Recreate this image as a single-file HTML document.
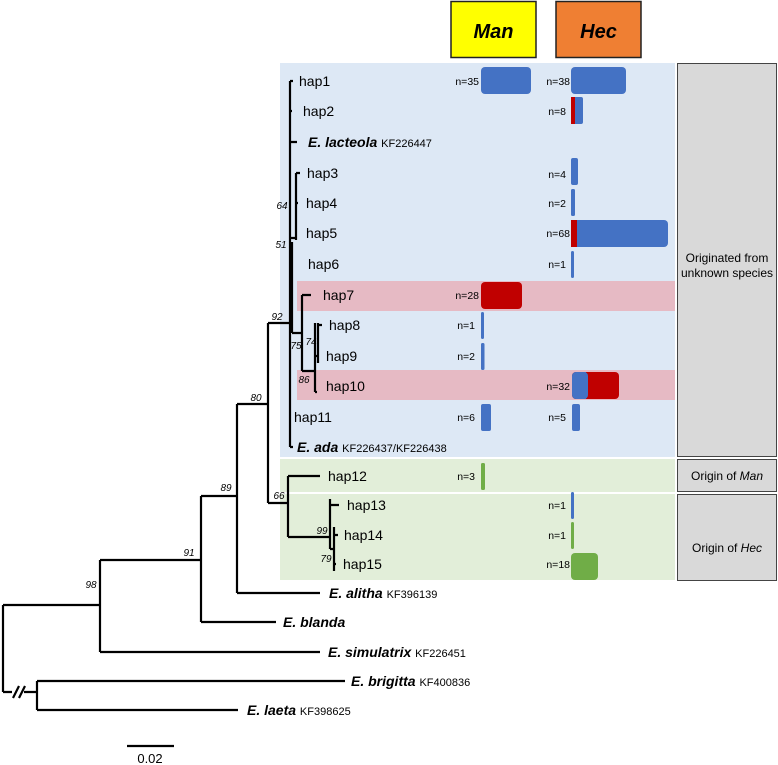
<!DOCTYPE html>
<html><head><meta charset="utf-8"><style>
html,body{margin:0;padding:0;background:#fff}
svg{display:block}
text{font-family:"Liberation Sans",Arial,sans-serif}
.h{font-size:14px}
.n{font-size:10.5px;text-anchor:end}
.sp{font-size:14px;font-weight:bold;font-style:italic}
.ac{font-size:11px;font-weight:normal;font-style:normal}
.b{font-size:10px;font-style:italic;text-anchor:middle}
.r{font-size:12px;text-anchor:middle}
</style></head><body>
<svg width="778" height="765" viewBox="0 0 778 765" xmlns="http://www.w3.org/2000/svg">
<!-- backgrounds -->
<rect x="280" y="63" width="395" height="394" fill="#dde8f5"/>
<rect x="297" y="281" width="378" height="30" fill="#e6bac4"/>
<rect x="297" y="370" width="378" height="30" fill="#e6bac4"/>
<rect x="280" y="459" width="395" height="33" fill="#e2eed9"/>
<rect x="280" y="494" width="395" height="86" fill="#e2eed9"/>
<rect x="677.5" y="63.5" width="99" height="393" fill="#d9d9d9" stroke="#444" stroke-width="1"/>
<rect x="677.5" y="459.5" width="99" height="32" fill="#d9d9d9" stroke="#444" stroke-width="1"/>
<rect x="677.5" y="494.5" width="99" height="86" fill="#d9d9d9" stroke="#444" stroke-width="1"/>
<text class="r" x="727" y="262">Originated from</text>
<text class="r" x="727" y="277">unknown species</text>
<text class="r" x="727" y="480">Origin of <tspan font-style="italic">Man</tspan></text>
<text class="r" x="727" y="552">Origin of <tspan font-style="italic">Hec</tspan></text>
<!-- headers -->
<rect x="451" y="1.5" width="85" height="56" fill="#ffff00" stroke="#222" stroke-width="1.5"/>
<rect x="556" y="1.5" width="85" height="56" fill="#ef7f33" stroke="#222" stroke-width="1.5"/>
<text x="493.5" y="38" text-anchor="middle" font-size="20" font-weight="bold" font-style="italic">Man</text>
<text x="598.5" y="38" text-anchor="middle" font-size="20" font-weight="bold" font-style="italic">Hec</text>
<!-- tree -->
<g stroke="#000" stroke-width="2.2" fill="none">
<path d="M3,605V692 M3,605H100 M100,560V652 M100,560H201 M100,652H320"/>
<path d="M201,496V622 M201,622H276 M201,496H237 M237,404V593 M237,593H320 M237,404H268"/>
<path d="M268,323V503 M268,323H290 M268,503H288 M288,476V537 M288,476H320 M288,537H330 M330,499V549 M330,505H339 M330,549H334 M334,527V571 M334,535H338 M334,564H336"/>
<path d="M290,81V447 M290,81H293 M290,111H292 M290,142H297 M290,264H292 M290,417H291 M290,447H293"/>
<path d="M290,238H296 M296,173V240 M296,173H300 M296,203H298"/>
<path d="M292,242V333 M292,333H302 M302,295V371 M302,295H311 M302,371H315 M315,323V392 M315,392H317 M318,323V363 M318,325H322 M315,356H318"/>
<path d="M3,692H12 M24,692H37 M37,681V710 M37,681H345 M37,710H238 M13,698L19,686 M19,698L25,686"/>
<path d="M127,746H174"/>
</g>
<text x="150" y="763" text-anchor="middle" font-size="13">0.02</text>
<!-- bootstrap -->
<g class="b">
<text x="91" y="588" class="b">98</text><text x="189" y="556" class="b">91</text>
<text x="226" y="491" class="b">89</text><text x="256" y="401" class="b">80</text>
<text x="277" y="320" class="b">92</text><text x="279" y="499" class="b">66</text>
<text x="282" y="209" class="b">64</text><text x="281" y="248" class="b">51</text>
<text x="296" y="349" class="b">75</text><text x="311" y="345" class="b">74</text>
<text x="304" y="383" class="b">86</text><text x="322" y="534" class="b">99</text>
<text x="326" y="562" class="b">79</text>
</g>
<!-- labels -->
<g class="h">
<text x="299" y="86">hap1</text><text x="303" y="116">hap2</text>
<text x="307" y="178">hap3</text><text x="306" y="208">hap4</text>
<text x="306" y="238">hap5</text><text x="308" y="269">hap6</text>
<text x="323" y="300">hap7</text><text x="329" y="330">hap8</text>
<text x="326" y="361">hap9</text><text x="326" y="391">hap10</text>
<text x="294" y="422">hap11</text><text x="328" y="481">hap12</text>
<text x="347" y="510">hap13</text><text x="344" y="540">hap14</text>
<text x="343" y="569">hap15</text>
</g>
<text class="sp" x="308" y="147">E. lacteola <tspan class="ac">KF226447</tspan></text>
<text class="sp" x="297" y="452">E. ada <tspan class="ac">KF226437/KF226438</tspan></text>
<text class="sp" x="329" y="598">E. alitha <tspan class="ac">KF396139</tspan></text>
<text class="sp" x="283" y="627">E. blanda</text>
<text class="sp" x="328" y="657">E. simulatrix <tspan class="ac">KF226451</tspan></text>
<text class="sp" x="351" y="686">E. brigitta <tspan class="ac">KF400836</tspan></text>
<text class="sp" x="247" y="715">E. laeta <tspan class="ac">KF398625</tspan></text>
<!-- counts -->
<g class="n">
<text x="479" y="85">n=35</text><text x="570" y="85">n=38</text>
<text x="566" y="115">n=8</text><text x="566" y="178">n=4</text>
<text x="566" y="207">n=2</text><text x="570" y="237">n=68</text>
<text x="566" y="268">n=1</text><text x="479" y="299">n=28</text>
<text x="475" y="329">n=1</text><text x="475" y="360">n=2</text>
<text x="570" y="390">n=32</text><text x="475" y="421">n=6</text>
<text x="566" y="421">n=5</text><text x="475" y="480">n=3</text>
<text x="566" y="509">n=1</text><text x="566" y="539">n=1</text>
<text x="570" y="568">n=18</text>
</g>
<!-- bars -->
<rect x="481" y="67" width="50" height="27" rx="4" fill="#4472c4"/>
<rect x="571" y="67" width="55" height="27" rx="4" fill="#4472c4"/>
<rect x="571" y="97" width="12" height="27" rx="2" fill="#4472c4"/><rect x="571" y="97" width="4" height="27" fill="#c00000"/>
<rect x="571" y="158" width="7" height="27" rx="2" fill="#4472c4"/>
<rect x="571" y="189" width="4" height="27" rx="1.5" fill="#4472c4"/>
<rect x="571" y="220" width="97" height="27" rx="4" fill="#4472c4"/><rect x="571" y="220" width="6" height="27" fill="#c00000"/>
<rect x="571" y="251" width="3" height="27" rx="1.5" fill="#4472c4"/>
<rect x="481" y="282" width="41" height="27" rx="4" fill="#c00000"/>
<rect x="481" y="312" width="3" height="27" rx="1.5" fill="#4472c4"/>
<rect x="481" y="343" width="3.5" height="27" rx="1.5" fill="#4472c4"/>
<rect x="572" y="372" width="47" height="27" rx="4" fill="#c00000"/><rect x="572" y="372" width="16" height="27" rx="4" fill="#4472c4"/><rect x="580" y="372" width="6" height="27" fill="#4472c4"/>
<rect x="481" y="404" width="10" height="27" rx="2" fill="#4472c4"/>
<rect x="572" y="404" width="8" height="27" rx="2" fill="#4472c4"/>
<rect x="481" y="463" width="4" height="27" rx="1.5" fill="#70ad47"/>
<rect x="571" y="492" width="3" height="27" rx="1.5" fill="#4472c4"/>
<rect x="571" y="522" width="3" height="27" rx="1.5" fill="#70ad47"/>
<rect x="571" y="553" width="27" height="27" rx="4" fill="#70ad47"/>
</svg>
</body></html>
